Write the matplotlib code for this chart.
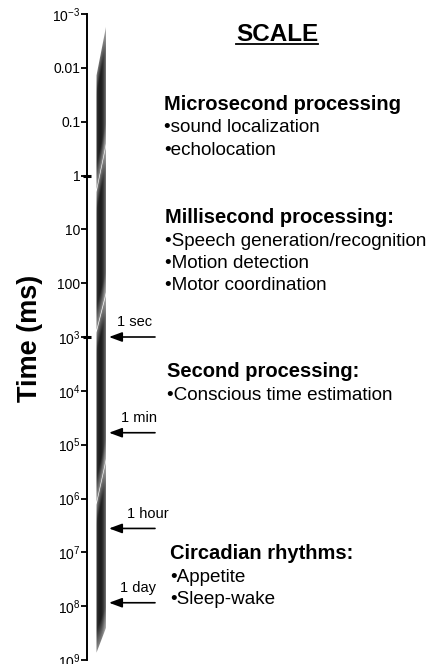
import numpy as np
import matplotlib
matplotlib.use('Agg')
import matplotlib.pyplot as plt
from matplotlib.patches import Polygon
from matplotlib.lines import Line2D
from matplotlib.ticker import NullLocator

plt.rcParams['font.family'] = ['Liberation Sans', 'DejaVu Sans']
plt.rcParams['mathtext.fontset'] = 'custom'
plt.rcParams['mathtext.rm'] = 'Liberation Sans'
plt.rcParams['mathtext.it'] = 'Liberation Sans:italic'
plt.rcParams['mathtext.bf'] = 'Liberation Sans:bold'

# --- data ---
decades = np.arange(-3, 10)
tick_labels = [r'$\mathregular{10^{-3}}$', '0.01', '0.1', '1', '10', '100',
               r'$\mathregular{10^{3}}$', r'$\mathregular{10^{4}}$', r'$\mathregular{10^{5}}$',
               r'$\mathregular{10^{6}}$', r'$\mathregular{10^{7}}$', r'$\mathregular{10^{8}}$',
               r'$\mathregular{10^{9}}$']

arrow_labels = ['1 sec', '1 min', '1 hour', '1 day']
arrow_ms = [1e3, 6e4, 3.6e6, 8.64e7]

# scale band: top end, the three breaks, bottom end (ms) and slant of each edge (decades)
band_edges_ms = [4.9e-3, 0.72, 350, 4.9e5, 4.3e8]
edge_slant = [0.9, 0.85, 0.7, 0.8, 0.46]

headers = ['Microsecond processing', 'Millisecond processing:',
           'Second processing:', 'Circadian rhythms:']
bullets = [['sound localization', 'echolocation'],
           ['Speech generation/recognition', 'Motion detection', 'Motor coordination'],
           ['Conscious time estimation'],
           ['Appetite', 'Sleep-wake']]

W, H = 439, 664
fig = plt.figure(figsize=(W / 100, H / 100), dpi=100)


def fx(px):
    return px / W


def fy(py):
    return 1 - py / H


# axis with the time scale
ax = fig.add_axes([fx(87), fy(660), 1 - fx(87), (660 - 14) / H])
ax.set_yscale('log')
ax.set_ylim(1e9, 1e-3)
ax.set_xlim(0, 1)
for s in ['top', 'right', 'bottom']:
    ax.spines[s].set_visible(False)
ax.spines['left'].set_linewidth(1.4)
ax.set_xticks([])
ax.set_yticks(10.0 ** decades)
ax.set_yticklabels(tick_labels)
ax.yaxis.set_minor_locator(NullLocator())
ax.tick_params(axis='y', direction='out', length=4, width=1.3, pad=0.8, labelsize=10)
ax.patch.set_visible(False)
ax.plot([0, 0], [1, 1e3], ls='none', marker='_', ms=6, mew=2.2, color='k', clip_on=False)

# overlay in figure pixels (x) and log10 ms (y)
ax2 = fig.add_axes([0, fy(660), 1, (660 - 14) / H])
ax2.set_xlim(0, W)
ax2.set_ylim(9, -3)
ax2.axis('off')
ax2.patch.set_visible(False)

x0, x1 = 96.5, 106
gap = 0.025
logs = np.log10(band_edges_ms)
for i in range(4):
    top = logs[i] + (gap if i > 0 else 0)
    bot = logs[i + 1] - (gap if i < 3 else 0)
    st, sb = edge_slant[i], edge_slant[i + 1]
    corners = [(x0, top + st / 2), (x1, top - st / 2), (x1, bot - sb / 2), (x0, bot + sb / 2)]
    poly = Polygon(corners, closed=True, facecolor='none', edgecolor='none',
                   transform=ax2.transData)
    ax2.add_patch(poly)
    ymin, ymax = top - st / 2, bot + sb / 2
    xs = np.linspace(x0, x1, 40)
    ys = np.linspace(ymin, ymax, 800)
    X, Y = np.meshgrid(xs, ys)
    u = (X - x0) / (x1 - x0)
    prof = np.where(u > 0.45, 0.12 + 0.36 * ((u - 0.45) / 0.55) ** 2,
                    0.12 + 0.12 * ((0.45 - u) / 0.45) ** 2)
    ytop = top + st * (0.5 - u)
    ybot = bot + sb * (0.5 - u)
    d = np.minimum(Y - ytop, ybot - Y)
    fade = 0.55 + 0.45 * np.clip(d / 0.4, 0, 1)
    val = 1 - (1 - prof) * fade
    im = ax2.imshow(val, extent=(x0, x1, ymax, ymin), origin='upper', cmap='gray',
                    vmin=0, vmax=1, aspect='auto', interpolation='bilinear')
    im.set_clip_path(poly)

# arrows for familiar durations
label_x = [117, 121, 127, 120]
for lbl, t, lx in zip(arrow_labels, arrow_ms, label_x):
    y = np.log10(t)
    ax2.annotate('', xy=(109, y), xytext=(155, y),
                 arrowprops=dict(arrowstyle='-|>,head_length=0.65,head_width=0.24',
                                 mutation_scale=12, lw=1.2, color='k',
                                 shrinkA=0, shrinkB=0))
    ax2.annotate(lbl, xy=(lx, y), xytext=(0, 7.8), textcoords='offset points',
                 ha='left', va='baseline', fontsize=10.5)

# y label
fig.text(fx(30), fy(338), 'Time (ms)', rotation=90, ha='center', va='center',
         fontsize=19.5, weight='bold')

# title
title = fig.text(fx(277), fy(41), 'SCALE', ha='center', va='baseline',
                 fontsize=17.5, weight='bold')
fig.canvas.draw()
bb = title.get_window_extent()
fig.add_artist(Line2D([bb.x0 / W, bb.x1 / W], [fy(44), fy(44)], transform=fig.transFigure,
                      color='k', lw=1.3))

# descriptions
header_y = [110, 223, 377, 559]
header_x = [164, 165, 167, 170]
for hd, items, hx, hy in zip(headers, bullets, header_x, header_y):
    fig.text(fx(hx), fy(hy), hd, ha='left', va='baseline', fontsize=14.5, weight='bold')
    for k, it in enumerate(items):
        fig.text(fx(hx), fy(hy + 22.5 * (k + 1)), '\u2022' + it, ha='left',
                 va='baseline', fontsize=13.6)

fig.savefig('out.png', dpi=100)
